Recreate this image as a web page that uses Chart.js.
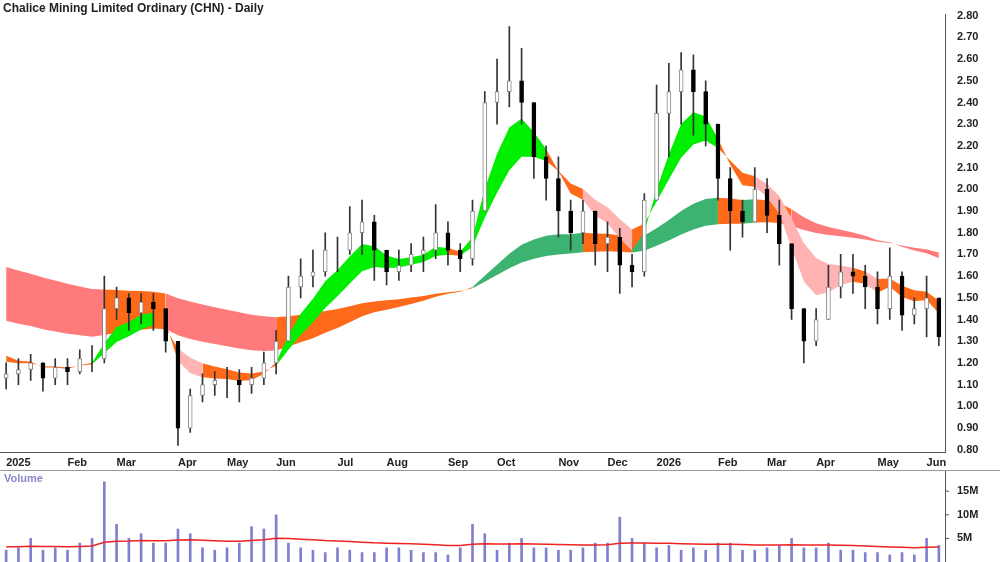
<!DOCTYPE html>
<html>
<head>
<meta charset="utf-8">
<script src="https://cdn.jsdelivr.net/npm/chart.js@4"></script>
<style>
  body { margin: 0; background: #fff; overflow: hidden; }
  #wrap { width: 1000px; height: 562px; position: relative; overflow: hidden; }
  #priceBox { position: absolute; left: 0; top: 0; width: 1000px; height: 474px; }
  #volBox { position: absolute; left: 0; top: 470px; width: 1000px; height: 92px; }
</style>
</head>
<body>
<div id="wrap">
  <div id="priceBox"><canvas id="priceChart"></canvas></div>
  <div id="volBox"><canvas id="volChart"></canvas></div>
</div>
<script>
// weekly bars, Jan 2025 - Jun 2026
const closes = [1.15,1.17,1.20,1.13,1.18,1.16,1.22,1.22,1.45,1.50,1.43,1.48,1.45,1.30,0.90,1.05,1.10,1.12,1.12,1.10,
  1.13,1.20,1.30,1.55,1.60,1.62,1.72,1.72,1.80,1.85,1.72,1.62,1.65,1.70,1.72,1.80,1.72,1.68,1.90,2.40,
  2.45,2.50,2.40,2.15,2.05,1.90,1.80,1.90,1.75,1.78,1.65,1.62,1.95,2.35,2.45,2.55,2.45,2.30,2.05,1.90,
  1.85,2.00,1.88,1.75,1.45,1.30,1.40,1.55,1.62,1.60,1.55,1.45,1.60,1.42,1.45,1.50,1.32];
const highs = [1.20,1.22,1.24,1.20,1.22,1.22,1.26,1.28,1.60,1.55,1.52,1.52,1.52,1.45,1.30,1.08,1.15,1.16,1.18,1.17,
  1.18,1.25,1.35,1.60,1.68,1.72,1.80,1.78,1.92,1.95,1.88,1.70,1.72,1.75,1.78,1.93,1.85,1.75,1.95,2.45,
  2.60,2.75,2.65,2.40,2.20,2.15,1.95,1.95,1.90,1.85,1.82,1.70,1.98,2.48,2.58,2.63,2.62,2.50,2.30,2.10,
  1.95,2.10,2.05,1.95,1.70,1.45,1.45,1.65,1.70,1.70,1.65,1.62,1.73,1.62,1.50,1.60,1.45];
const lows = [1.08,1.10,1.12,1.07,1.10,1.10,1.15,1.16,1.20,1.40,1.35,1.38,1.35,1.25,0.82,0.88,1.02,1.05,1.04,1.02,
  1.06,1.10,1.15,1.30,1.50,1.55,1.60,1.62,1.70,1.70,1.58,1.56,1.58,1.62,1.62,1.68,1.65,1.62,1.65,1.90,
  2.30,2.38,2.30,2.05,1.95,1.78,1.72,1.75,1.65,1.62,1.52,1.55,1.60,1.95,2.15,2.30,2.25,2.20,1.95,1.72,
  1.78,1.85,1.80,1.65,1.40,1.20,1.28,1.40,1.50,1.52,1.45,1.38,1.40,1.35,1.38,1.32,1.28];
const volumes = [2.5,3,5,2.5,3,2.5,4,5,17,8,5,6,4,4,7,6,3,2.5,3,4,
  7.5,7,10,4,3,2.5,2,3,2.5,2,2,3,3,2.5,2,2,1.5,3,8,6,
  2.5,4,5,3,3,2.5,2.5,3,4,4,9.5,5,4,3,3.5,2.5,3,2.5,4,4,
  2.5,2.5,3,3.5,5,3,3,4,2.5,2.5,2,2,1.5,2,1.5,5,3.5];
const monthLabels = ['2025','Feb','Mar','Apr','May','Jun','Jul','Aug','Sep','Oct','Nov','Dec','2026','Feb','Mar','Apr','May','Jun'];
const monthWeeks = [0,5,9,14,18,22,27,31,36,40,45,49,53,58,62,66,71,75];
const priceTicks = [0.80,0.90,1.00,1.10,1.20,1.30,1.40,1.50,1.60,1.70,1.80,1.90,2.00,2.10,2.20,2.30,2.40,2.50,2.60,2.70,2.80];
const volTicks = [5, 10, 15];
// starting levels of the ribbons (carried in from 2024)
const shortStart = [1.28, 1.22];
const longStart = [1.41, 1.66];
const volAvgStart = 3.3;

const labels = closes.map((c, i) => {
  const k = monthWeeks.indexOf(i);
  return k >= 0 ? monthLabels[k] : '';
});
const opens = closes.map((c, i) => i === 0 ? 1.13 : closes[i - 1]);

function ema(start, alpha) {
  let v = start;
  return closes.map(c => (v = v + alpha * (c - v)));
}
const shortFast = ema(shortStart[0], 0.36);
const shortSlow = ema(shortStart[1], 0.2);
const longFast = ema(longStart[0], 0.06);
const longSlow = ema(longStart[1], 0.035);
let va = volAvgStart;
const volAvg = volumes.map(v => (va = va + 0.06 * (v - va)));

const GREEN = '#00ee00', ORANGE = '#ff6a1a', PINK = '#ffb3b3', LPINK = '#ff7b7b', DGREEN = '#3cb371';
function shortColor(i) {
  const d = shortFast[i] - shortSlow[i];
  if (d > 0.03) return GREEN;
  if (d < -0.06) return PINK;
  return ORANGE;
}
function longColor(i) {
  const rising = i > 0 && longFast[i] > longFast[i - 1];
  const lo = Math.min(longFast[i], longSlow[i]);
  const hi = Math.max(longFast[i], longSlow[i]);
  const sLo = Math.min(shortFast[i], shortSlow[i]);
  const sHi = Math.max(shortFast[i], shortSlow[i]);
  if (sLo < hi && sHi > lo - 0.02) return ORANGE;
  if (longFast[i] > longSlow[i] + 0.01 && rising) return DGREEN;
  if (sHi >= lo - 0.02) return ORANGE;
  return LPINK;
}

const rightWidth = 55;
const titlePlugin = {
  id: 'title',
  afterDraw(chart) {
    const c = chart.ctx;
    c.save();
    c.font = 'bold 12px "Liberation Sans"';
    c.fillStyle = '#222';
    c.textBaseline = 'top';
    c.fillText(chart.options.titleText, 3, 3);
    c.restore();
  }
};

new Chart(document.getElementById('priceChart'), {
  type: 'bar',
  plugins: [titlePlugin],
  data: {
    labels: labels,
    datasets: [
      { type: 'line', data: longFast, borderWidth: 0, pointRadius: 0, fill: '+1', order: 5,
        segment: { backgroundColor: ctx => longColor(ctx.p1DataIndex) } },
      { type: 'line', data: longSlow, borderWidth: 0, pointRadius: 0, fill: false, order: 5 },
      { type: 'line', data: shortFast, borderWidth: 0, pointRadius: 0, fill: '+1', order: 4,
        segment: { backgroundColor: ctx => shortColor(ctx.p1DataIndex) } },
      { type: 'line', data: shortSlow, borderWidth: 0, pointRadius: 0, fill: false, order: 4 },
      { data: closes.map((c, i) => [lows[i], highs[i]]), backgroundColor: '#333', barThickness: 1, grouped: false, order: 2 },
      { data: closes.map((c, i) => [opens[i], c]),
        backgroundColor: closes.map((c, i) => c >= opens[i] ? '#fff' : '#000'),
        borderColor: closes.map((c, i) => c >= opens[i] ? '#888' : '#000'),
        borderWidth: 1, borderSkipped: false, barThickness: 4, grouped: false, order: 1 }
    ]
  },
  options: {
    titleText: 'Chalice Mining Limited Ordinary (CHN) - Daily',
    responsive: true,
    maintainAspectRatio: false,
    animation: false,
    layout: { padding: { top: 0, left: 0 } },
    plugins: { legend: { display: false }, tooltip: { enabled: false } },
    scales: {
      x: {
        grid: { display: false, drawTicks: false },
        border: { color: '#555' },
        ticks: { autoSkip: false, maxRotation: 0, align: 'start', color: '#222', padding: 4,
          font: { family: 'Liberation Sans', weight: 'bold', size: 11 } }
      },
      y: {
        position: 'right', min: 0.786, max: 2.805,
        afterBuildTicks: axis => { axis.ticks = priceTicks.map(v => ({ value: v })); },
        afterFit: axis => { axis.width = rightWidth; },
        grid: { display: false, drawTicks: true, tickLength: 4 },
        border: { color: '#555' },
        ticks: { color: '#222', callback: v => v.toFixed(2), padding: 8,
          font: { family: 'Liberation Sans', weight: 'bold', size: 11 } }
      }
    }
  }
});

// volume panel: labels drawn here so the axis adds no label padding
const volLabel = {
  id: 'volLabel',
  afterDraw(chart) {
    const c = chart.ctx;
    const y = chart.scales.y;
    c.save();
    c.font = 'bold 11px "Liberation Sans"';
    c.fillStyle = '#8888cc';
    c.textBaseline = 'top';
    c.fillText('Volume', 4, 3);
    c.strokeStyle = '#999';
    c.lineWidth = 1;
    c.beginPath(); c.moveTo(0, 0.5); c.lineTo(chart.width, 0.5); c.stroke();
    c.fillStyle = '#222';
    c.textBaseline = 'middle';
    c.strokeStyle = '#555';
    volTicks.forEach(v => {
      const py = y.getPixelForValue(v);
      c.beginPath(); c.moveTo(y.left, py); c.lineTo(y.left + 4, py); c.stroke();
      c.fillText(v + 'M', y.left + 12, py);
    });
    c.restore();
  }
};

new Chart(document.getElementById('volChart'), {
  type: 'bar',
  plugins: [volLabel],
  data: {
    labels: labels,
    datasets: [
      { type: 'line', data: volAvg, borderColor: '#ee2222', borderWidth: 1.5, pointRadius: 0, order: 0 },
      { data: volumes, backgroundColor: '#8080d0', barThickness: 2, order: 1 }
    ]
  },
  options: {
    responsive: true,
    maintainAspectRatio: false,
    animation: false,
    layout: { padding: 0 },
    plugins: { legend: { display: false }, tooltip: { enabled: false } },
    scales: {
      x: { display: false },
      y: {
        position: 'right', min: 0, max: 19.5,
        afterFit: axis => { axis.width = rightWidth; },
        grid: { display: false, drawTicks: false },
        border: { color: '#555' },
        ticks: { display: false }
      }
    }
  }
});
</script>
</body>
</html>
